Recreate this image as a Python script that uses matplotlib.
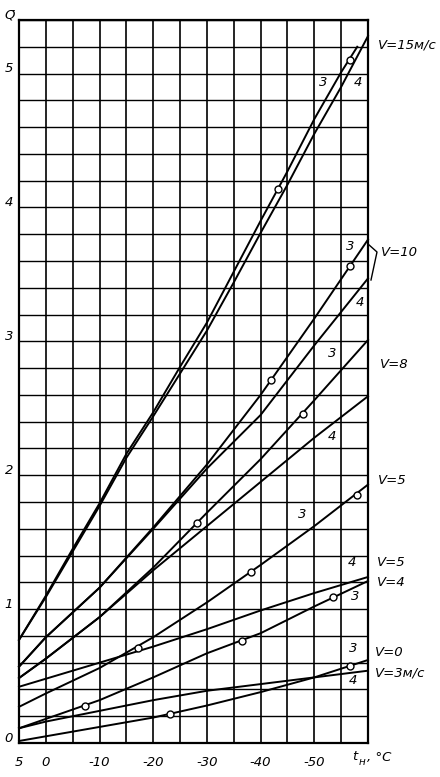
import numpy as np
import matplotlib
matplotlib.use("Agg")
import matplotlib.pyplot as plt
from matplotlib.lines import Line2D

# outdoor temperature, deg C
t_full = [5, 0, -10, -20, -30, -40, -50, -60]

# relative heat loss Q for each wind speed, curves 3 and 4
q_v15_3_t = [5, 0, -5, -10, -15, -20, -25, -30, -35, -40, -45, -50, -55, -58]
q_v15_3 = [0.77, 1.10, 1.45, 1.79, 2.16, 2.47, 2.81, 3.14, 3.52, 3.90, 4.27, 4.66, 5.01, 5.20]
q_v15_4_t = [5, 0, -5, -10, -15, -20, -25, -30, -35, -40, -45, -50, -55, -60]
q_v15_4 = [0.77, 1.09, 1.43, 1.77, 2.13, 2.44, 2.76, 3.08, 3.44, 3.81, 4.17, 4.55, 4.90, 5.28]
q_v10_3 = [0.57, 0.79, 1.16, 1.61, 2.08, 2.60, 3.17, 3.76]
q_v10_4 = [0.57, 0.79, 1.16, 1.60, 2.05, 2.45, 2.97, 3.47]
q_v8_3 = [0.485, 0.63, 0.94, 1.31, 1.72, 2.12, 2.56, 3.01]
q_v8_4 = [0.485, 0.63, 0.94, 1.29, 1.62, 1.95, 2.28, 2.59]
q_v5_3 = [0.27, 0.37, 0.56, 0.79, 1.05, 1.33, 1.62, 1.93]
q_v5_4 = [0.42, 0.48, 0.60, 0.72, 0.85, 0.99, 1.12, 1.24]
q_v4_3 = [0.11, 0.18, 0.32, 0.49, 0.67, 0.82, 1.02, 1.21]
q_v0_3 = [0.015, 0.05, 0.12, 0.19, 0.28, 0.38, 0.49, 0.62]
q_v3_4 = [0.11, 0.16, 0.24, 0.32, 0.39, 0.44, 0.49, 0.54]

# measured points (open circles)
pt_t = [-56.6, -43.3, -56.6, -41.9, -47.9, -28.1, -57.9, -38.3, -17.2, -53.5, -36.5, -7.3, -56.6, -23.1]
pt_q = [5.10, 4.14, 3.56, 2.71, 2.46, 1.64, 1.85, 1.28, 0.71, 1.09, 0.76, 0.28, 0.575, 0.22]

x_ticks = [5, 0, -10, -20, -30, -40, -50]
y_ticks = [0, 1, 2, 3, 4, 5]

W, H = 440, 777
fig = plt.figure(figsize=(W / 100, H / 100), dpi=100)
ax = fig.add_axes([19 / W, 1 - 743 / H, (368 - 19) / W, (743 - 20) / H])
ax.set_xlim(5, -60)
ax.set_ylim(0, 5.4)

for xv in np.arange(5, -61, -5):
    ax.axvline(xv, color="black", lw=1.2, zorder=1)
for yv in np.arange(0, 5.41, 0.2):
    ax.axhline(yv, color="black", lw=1.0, zorder=1)
for s in ax.spines.values():
    s.set_linewidth(1.6)

ax.set_xticks([])
ax.set_yticks([])

curves = [
    (q_v15_3_t, q_v15_3), (q_v15_4_t, q_v15_4),
    (t_full, q_v10_3), (t_full, q_v10_4),
    (t_full, q_v8_3), (t_full, q_v8_4),
    (t_full, q_v5_3), (t_full, q_v5_4),
    (t_full, q_v4_3), (t_full, q_v0_3), (t_full, q_v3_4),
]
for tt, qq in curves:
    ax.plot(tt, qq, color="black", lw=1.4, zorder=3, clip_on=False)

ax.plot(pt_t, pt_q, "o", ms=5, mfc="white", mec="black", mew=1.0, zorder=4, clip_on=False)


def px(x, y):
    return x / W, 1 - y / H


fnt = dict(fontstyle="italic", fontsize=9.5, color="black")

for v in x_ticks:
    xp = 19 + (5 - v) * (349 / 65)
    fig.text(*px(xp, 763), str(v).replace("-", "-"), ha="center", va="center", **fnt)
for v in y_ticks:
    yp = 743 - v * 134
    fig.text(*px(9, yp - 4), str(v), ha="center", va="center", **fnt)
fig.text(*px(10, 15), "Q\u0304", ha="center", va="center", **fnt)
fig.text(*px(352, 757), "t", ha="left", va="center", **fnt)
fig.text(*px(359, 762), "н", ha="left", va="center", fontstyle="italic", fontsize=7.5)
fig.text(*px(367, 757), ", °C", ha="left", va="center", **fnt)

right_labels = [
    (378, 45, "V=15м/с"), (381, 253, "V=10"), (380, 365, "V=8"),
    (378, 480, "V=5"), (377, 563, "V=5"), (377, 583, "V=4"),
    (375, 653, "V=0"), (375, 673, "V=3м/с"),
]
for x, y, s in right_labels:
    fig.text(*px(x, y), s, ha="left", va="center", **fnt)

curve_labels = [
    (323, 82, "3"), (358, 82, "4"), (350, 247, "3"), (360, 302, "4"),
    (332, 353, "3"), (332, 437, "4"), (302, 515, "3"), (352, 563, "4"),
    (355, 597, "3"), (353, 648, "3"), (353, 680, "4"),
]
for x, y, s in curve_labels:
    fig.text(*px(x, y), s, ha="center", va="center", **fnt)

# bracket for V=10
br = [(368, 244), (377, 252), (371, 280)]
fig.add_artist(Line2D([px(*p)[0] for p in br], [px(*p)[1] for p in br], color="black", lw=1.0))

fig.savefig("out.png", dpi=100)
